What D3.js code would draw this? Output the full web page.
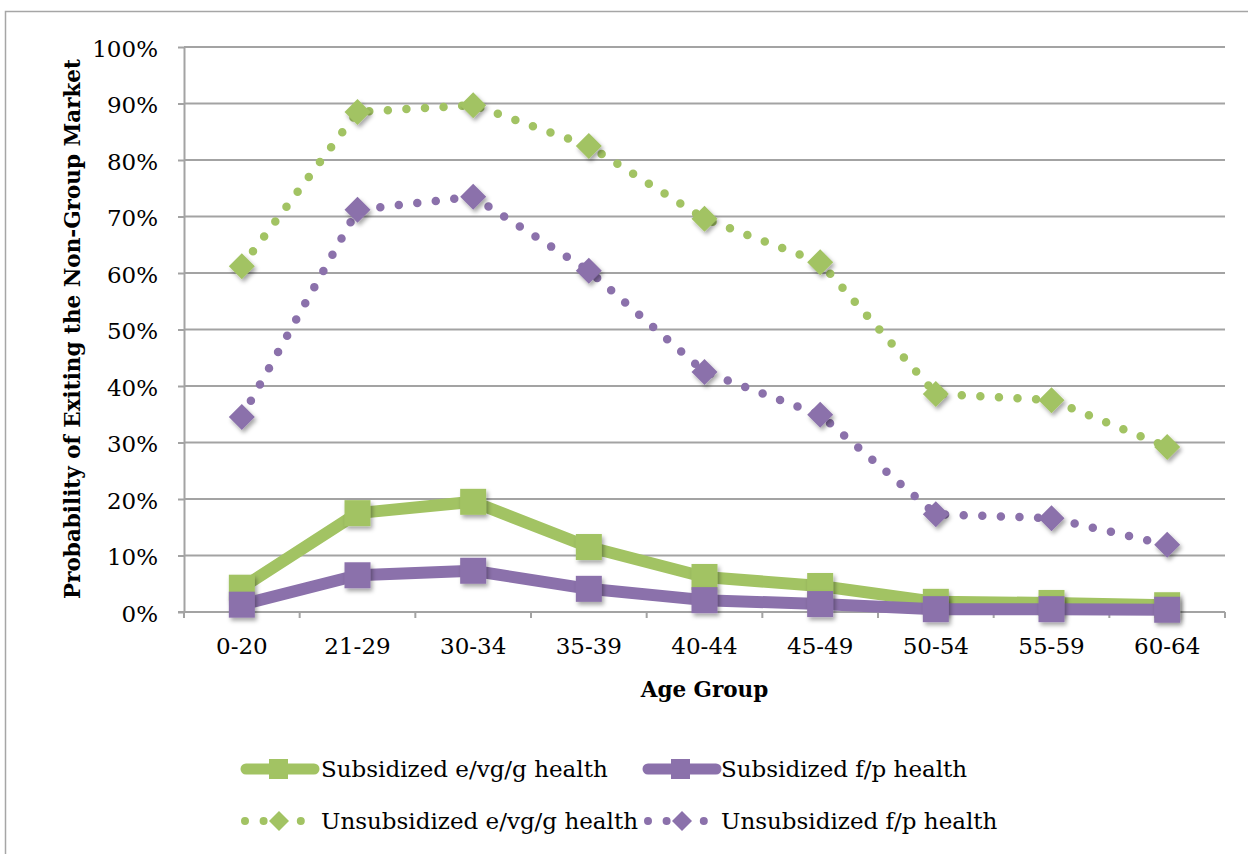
<!DOCTYPE html>
<html><head><meta charset="utf-8">
<script src="https://cdn.jsdelivr.net/npm/d3@7"></script>
<style>body{margin:0;background:#fff} svg{display:block}</style>
</head><body><svg id="c" width="1248" height="854"></svg>
<script>
const categories = ["0-20","21-29","30-34","35-39","40-44","45-49","50-54","55-59","60-64"];
const subsidizedGood   = [0.043,0.175,0.195,0.115,0.062,0.046,0.018,0.016,0.012];
const subsidizedPoor   = [0.013,0.065,0.073,0.041,0.021,0.014,0.005,0.005,0.004];
const unsubsidizedGood = [0.612,0.885,0.897,0.825,0.696,0.619,0.386,0.375,0.292];
const unsubsidizedPoor = [0.345,0.712,0.735,0.604,0.425,0.349,0.173,0.166,0.119];
const yTicks = [0,0.1,0.2,0.3,0.4,0.5,0.6,0.7,0.8,0.9,1.0];
const seriesNames = ["Subsidized e/vg/g health","Subsidized f/p health","Unsubsidized e/vg/g health","Unsubsidized f/p health"];
const xTitle = "Age Group";
const yTitle = "Probability of Exiting the Non-Group Market";

const GREEN = "#a2c363", PURPLE = "#8b71ab", GRID = "#a3a3a3";
const FONT = "'DejaVu Serif', serif";

const series = [
  {name: seriesNames[0], values: subsidizedGood, color: GREEN, dotted: false},
  {name: seriesNames[1], values: subsidizedPoor, color: PURPLE, dotted: false},
  {name: seriesNames[2], values: unsubsidizedGood, color: GREEN, dotted: true},
  {name: seriesNames[3], values: unsubsidizedPoor, color: PURPLE, dotted: true}
];

const svg = d3.select("#c");
const L = 184, R = 1225, T = 47, B = 612;

const defs = svg.append("defs");
const f = defs.append("filter").attr("id","sh").attr("x","-50%").attr("y","-50%").attr("width","200%").attr("height","200%");
f.append("feDropShadow").attr("dx",2).attr("dy",3).attr("stdDeviation",2).attr("flood-color","#000").attr("flood-opacity",0.35);

// outer border
svg.append("rect").attr("x",5.5).attr("y",11.5).attr("width",1260).attr("height",860)
  .attr("fill","none").attr("stroke","#a6a6a6").attr("stroke-width",1.5);

const x = d3.scaleBand().domain(categories).range([L,R]).padding(0);
const cx = c => x(c) + x.bandwidth()/2;
const y = d3.scaleLinear().domain([0,1]).range([B,T]);

// gridlines
svg.append("g").selectAll("line").data(yTicks.filter(d=>d>0)).join("line")
  .attr("x1",L).attr("x2",R).attr("y1",d=>y(d)).attr("y2",d=>y(d))
  .attr("stroke",GRID).attr("stroke-width",2);

// y axis
const ya = svg.append("g").attr("transform",`translate(${L},0)`)
  .call(d3.axisLeft(y).tickValues(yTicks).tickFormat(d3.format(".0%")).tickSizeInner(6).tickSizeOuter(0).tickPadding(20));
ya.select(".domain").attr("stroke",GRID).attr("stroke-width",2);
ya.selectAll(".tick line").attr("stroke",GRID).attr("stroke-width",2);
ya.selectAll(".tick text").attr("font-family",FONT).attr("font-size",23).attr("fill","#000").attr("dy","0.4em");

// x axis
const xa = svg.append("g").attr("transform",`translate(0,${B})`)
  .call(d3.axisBottom(x).tickSize(0).tickPadding(26));
xa.select(".domain").remove();
xa.selectAll(".tick text").attr("font-family",FONT).attr("font-size",23).attr("fill","#000");
svg.append("line").attr("x1",L-6).attr("x2",R).attr("y1",B).attr("y2",B).attr("stroke",GRID).attr("stroke-width",2);
const bounds = categories.map(c=>x(c)).concat([R]);
svg.append("g").selectAll("line").data(bounds).join("line")
  .attr("x1",d=>d).attr("x2",d=>d).attr("y1",B).attr("y2",B+6).attr("stroke",GRID).attr("stroke-width",2);

// titles
svg.append("text").attr("x",(L+R)/2).attr("y",697).attr("text-anchor","middle")
  .attr("font-family",FONT).attr("font-weight","bold").attr("font-size",21.5).text(xTitle);
svg.append("text").attr("transform",`translate(80,329) rotate(-90)`).attr("text-anchor","middle")
  .attr("font-family",FONT).attr("font-weight","bold").attr("font-size",21.5).text(yTitle);

const line = d3.line().x((d,i)=>cx(categories[i])).y(d=>y(d));
const diamond = s => `M0,${-s}L${s},0L0,${s}L${-s},0Z`;

series.forEach(s => {
  const g = svg.append("g");
  if (s.dotted) {
    g.append("path").attr("d",line(s.values)).attr("fill","none").attr("stroke",s.color)
      .attr("stroke-width",8.5).attr("stroke-linecap","round").attr("stroke-dasharray","0 18.6");
    g.selectAll("path.m").data(s.values).join("path").attr("class","m")
      .attr("transform",(d,i)=>`translate(${cx(categories[i])},${y(d)})`)
      .attr("d",diamond(13)).attr("fill",s.color).attr("filter","url(#sh)");
  } else {
    g.append("path").attr("d",line(s.values)).attr("fill","none").attr("stroke",s.color)
      .attr("stroke-width",12).attr("stroke-linejoin","round");
    g.selectAll("rect").data(s.values).join("rect")
      .attr("x",(d,i)=>cx(categories[i])-13).attr("y",d=>y(d)-13)
      .attr("width",26).attr("height",26).attr("fill",s.color).attr("filter","url(#sh)");
  }
});

// legend
const legPos = [[243,769],[645,769],[245,821],[648,821]];
series.forEach((s,i) => {
  const [lx,ly] = legPos[i];
  const g = svg.append("g").attr("transform",`translate(${lx},${ly})`);
  if (s.dotted) {
    g.append("line").attr("x1",0).attr("x2",60).attr("y1",0).attr("y2",0).attr("stroke",s.color)
      .attr("stroke-width",8).attr("stroke-linecap","round").attr("stroke-dasharray","0 18.6");
    g.append("path").attr("transform","translate(34,0)").attr("d",diamond(10)).attr("fill",s.color);
  } else {
    g.append("line").attr("x1",3).attr("x2",71).attr("y1",0).attr("y2",0).attr("stroke",s.color)
      .attr("stroke-width",11).attr("stroke-linecap","round");
    g.append("rect").attr("x",26).attr("y",-10).attr("width",19).attr("height",20).attr("fill",s.color);
  }
  g.append("text").attr("x",lx<400?(s.dotted?76:78):(s.dotted?73:76)).attr("y",8).attr("font-family",FONT).attr("font-size",23)
    .text(s.name);
});
</script></body></html>
